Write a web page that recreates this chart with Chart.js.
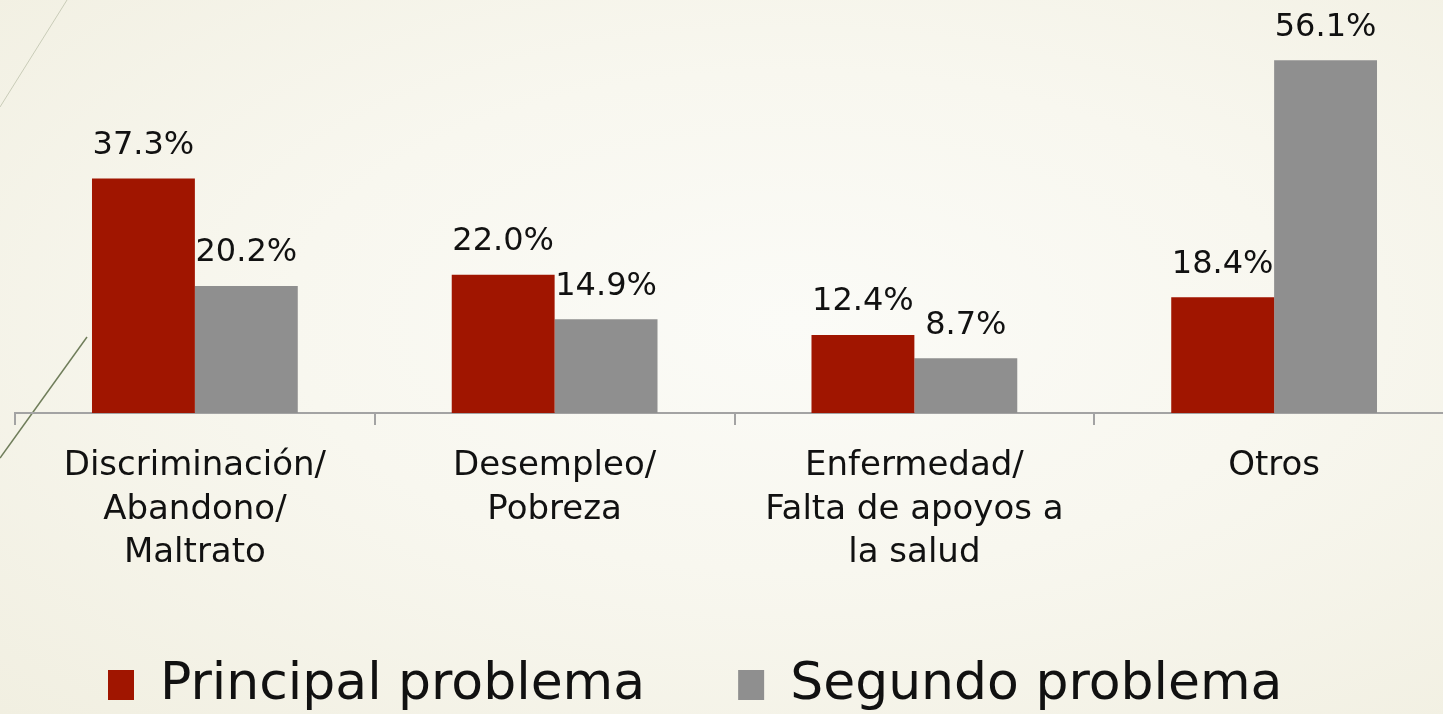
<!DOCTYPE html>
<html>
<head>
<meta charset="utf-8">
<script src="https://cdn.jsdelivr.net/npm/chart.js@4"></script>
<style>
  html, body { margin:0; padding:0; overflow:hidden; }
  body {
    width:1443px; height:714px;
    background: radial-gradient(ellipse at 55% 45%, #fbfbf7 0%, #f8f7ef 45%, #f1efe1 100%);
  }
  #wrap { position:absolute; left:0; top:0; width:1454px; height:721px; }
</style>
</head>
<body>
<div id="wrap"><canvas id="chart"></canvas></div>
<script>
// categories and series
const categories = [
  ['Discriminación/', 'Abandono/', 'Maltrato'],
  ['Desempleo/', 'Pobreza'],
  ['Enfermedad/', 'Falta de apoyos a', 'la salud'],
  ['Otros']
];
const principal = [37.3, 22.0, 12.4, 18.4];
const segundo = [20.2, 14.9, 8.7, 56.1];
const seriesNames = ['Principal problema', 'Segundo problema'];

const FONT = "'DejaVu Sans', sans-serif";

// value labels above bars
const barLabels = {
  id: 'barLabels',
  afterDatasetsDraw(chart){
    const ctx = chart.ctx;
    ctx.save();
    ctx.font = '32px ' + FONT;
    ctx.fillStyle = '#111';
    ctx.textAlign = 'center';
    ctx.textBaseline = 'middle';
    chart.data.datasets.forEach((ds, i) => {
      chart.getDatasetMeta(i).data.forEach((bar, j) => {
        ctx.fillText(ds.data[j].toFixed(1) + '%', bar.x, bar.y - 33);
      });
    });
    ctx.restore();
  }
};

// thin decorative strokes on the left edge of the slide
const slideDeco = {
  id: 'slideDeco',
  beforeDraw(chart){
    const ctx = chart.ctx;
    ctx.save();
    ctx.strokeStyle = '#c9ccb8';
    ctx.lineWidth = 1;
    ctx.beginPath(); ctx.moveTo(0, 107); ctx.lineTo(67, 0); ctx.stroke();
    ctx.strokeStyle = '#6f7d5a';
    ctx.lineWidth = 1.5;
    ctx.beginPath(); ctx.moveTo(87, 337); ctx.lineTo(0, 458); ctx.stroke();
    ctx.restore();
  }
};

new Chart(document.getElementById('chart'), {
  type: 'bar',
  data: {
    labels: categories,
    datasets: [
      { label: seriesNames[0], data: principal, backgroundColor: '#a01500' },
      { label: seriesNames[1], data: segundo, backgroundColor: '#8f8f8f' }
    ]
  },
  options: {
    responsive: true,
    maintainAspectRatio: false,
    animation: false,
    layout: { padding: { left: 15, top: 10, right: 0, bottom: 0 } },
    datasets: { bar: { categoryPercentage: 0.572, barPercentage: 1.0 } },
    scales: {
      x: {
        afterFit(scale){ scale.height = 153; },
        grid: { offset: true, drawOnChartArea: false, drawTicks: true, tickLength: 12, color: '#a3a3a3', lineWidth: 2 },
        border: { display: true, color: '#a3a3a3', width: 2 },
        ticks: { color: '#111', font: { family: FONT, size: 34, lineHeight: 1.27 }, padding: 20, maxRotation: 0, autoSkip: false }
      },
      y: { display: false, min: 0, max: 64.1 }
    },
    plugins: {
      tooltip: { enabled: false },
      legend: {
        position: 'bottom',
        align: 'start',
        labels: {
          color: '#111',
          font: { family: FONT, size: 52 },
          boxWidth: 26, boxHeight: 30,
          padding: 93
        }
      }
    }
  },
  plugins: [barLabels, slideDeco]
});
</script>
</body>
</html>
